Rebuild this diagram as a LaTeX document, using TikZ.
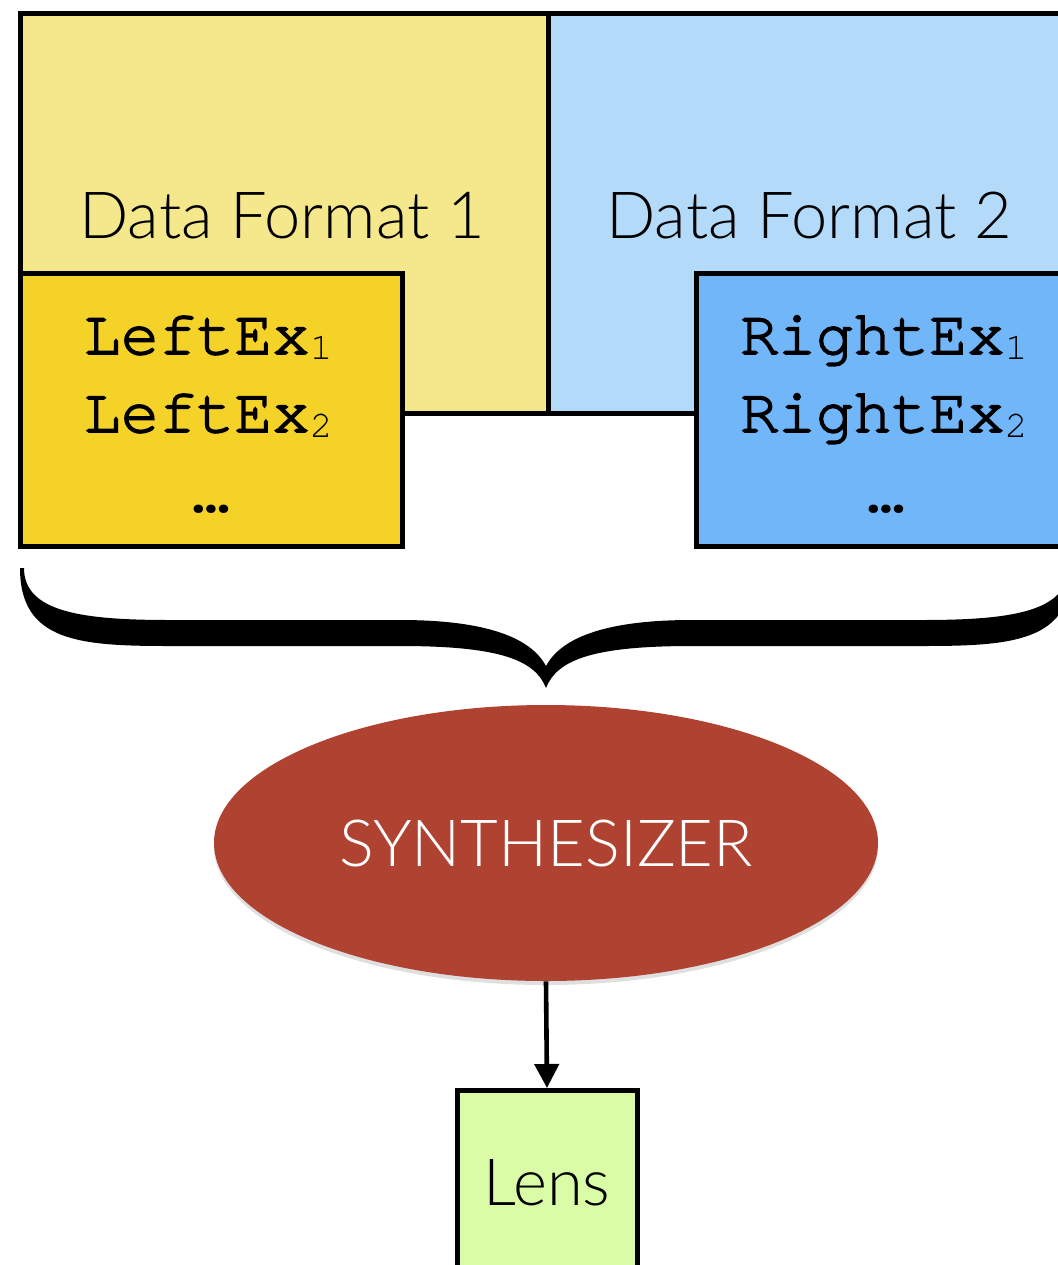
\documentclass[tikz,border=0pt]{standalone}
\usepackage{fontspec}
\setmainfont{Lato Light}
\newfontfamily\exmono{TeX Gyre Cursor}
\newfontfamily\exmonoheavy{TeX Gyre Cursor}[FakeBold=2.5]
\usetikzlibrary{shapes.geometric,arrows.meta,shadows}

\definecolor{fmtyellow}{RGB}{245,232,140}
\definecolor{fmtblue}{RGB}{180,218,250}
\definecolor{exyellow}{RGB}{245,210,40}
\definecolor{exblue}{RGB}{112,182,248}
\definecolor{synthred}{RGB}{176,66,50}
\definecolor{lensgreen}{RGB}{218,252,166}

% lowered, lighter index after an example name
\newcommand\exsub[1]{\raisebox{-2.5pt}{\exmono\fontsize{19}{20}\selectfont #1}}

\begin{document}
\begin{tikzpicture}[x=0.5pt,y=-0.5pt,
  outline/.style={draw=black,line width=2.5pt},
  exbox/.style={outline,rectangle,inner sep=0pt},
  fmtlabel/.style={font=\fontsize{32.5}{36}\selectfont,anchor=base,inner sep=0pt},
  exlabel/.style={font=\exmonoheavy\fontsize{31.5}{36}\selectfont,anchor=base,inner sep=0pt},
  connector/.style={line width=2.3pt,-{Triangle[length=12pt,width=12pt]}}]
\useasboundingbox (0,0) rectangle (1058,1265);
\clip (0,0) rectangle (1058,1265);

% the two data formats
\path[fill=fmtyellow] (20,13) rectangle (548,413);
\path[fill=fmtblue] (548,13) rectangle (1070,413);
\draw[outline] (20,13) rectangle (548,413);
\draw[outline] (548,13) rectangle (1070,413);
\node[fmtlabel] (fmt1) at (282,238) {Data Format 1};
\node[fmtlabel] (fmt2) at (809,238) {Data Format 2};

% example boxes
\node[exbox,fill=exyellow,minimum width=191pt,minimum height=136.5pt] (leftex) at (211,409.5) {};
\node[exbox,fill=exblue,minimum width=188pt,minimum height=136.5pt] (rightex) at (884,409.5) {};
\node[exlabel] (l1) at (208,354) {LeftEx\exsub{1}};
\node[exlabel] (l2) at (208,432) {LeftEx\exsub{2}};
\node[exlabel,font=\exmono\bfseries\fontsize{31.5}{36}\selectfont] (l3) at (211,512) {…};
\node[exlabel] (r1) at (884,354) {RightEx\exsub{1}};
\node[exlabel] (r2) at (884,432) {RightEx\exsub{2}};
\node[exlabel,font=\exmono\bfseries\fontsize{31.5}{36}\selectfont] (r3) at (886,512) {…};

% brace gathering both formats
\fill[black] (20,568) .. controls (20,642) and (80,646) .. (170,646)
  -- (400,646) .. controls (500,646) and (535,660) .. (546,688)
  .. controls (557,660) and (592,646) .. (692,646)
  -- (922,646) .. controls (1012,646) and (1072,642) .. (1072,568)
  -- (1068,568) .. controls (1068,612) and (1010,620) .. (922,620)
  -- (692,620) .. controls (600,620) and (560,640) .. (546,666)
  .. controls (532,640) and (492,620) .. (400,620)
  -- (170,620) .. controls (82,620) and (24,612) .. (24,568) -- cycle;

% synthesizer and result
\node[ellipse,fill=synthred,minimum width=332pt,minimum height=138pt,inner sep=0pt,
  drop shadow={shadow xshift=0pt,shadow yshift=-2pt,opacity=0.25},
  text=white,font=\fontsize{32.5}{36}\selectfont] (synth) at (546,843) {SYNTHESIZER};
\node[outline,fill=lensgreen,minimum width=90pt,minimum height=92pt,anchor=north,
  inner sep=0pt,font=\fontsize{32.5}{36}\selectfont] (lens) at (547,1088) {Lens};
\draw[connector] (synth.south) -- (lens.north);
\end{tikzpicture}
\end{document}
